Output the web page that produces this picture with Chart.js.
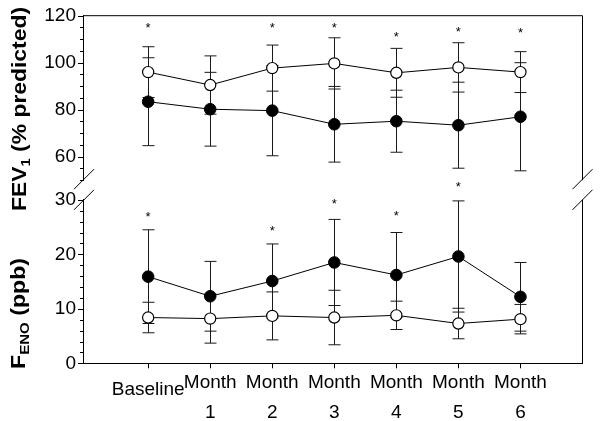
<!DOCTYPE html>
<html><head><meta charset="utf-8">
<script src="https://cdn.jsdelivr.net/npm/chart.js@4.4.0/dist/chart.umd.min.js"></script>
<style>
html,body{margin:0;padding:0;background:#fff;}
#wrap{position:relative;width:602px;height:421px;overflow:hidden;}
canvas{position:absolute;left:0;}
</style></head><body>
<div id="wrap">
<canvas id="topc" width="602" height="215" style="top:0px"></canvas>
<canvas id="botc" width="602" height="251" style="top:170px"></canvas>
</div>
<script>
// ---- data ----
const categories = ['Baseline', ['Month','1'], ['Month','2'], ['Month','3'], ['Month','4'], ['Month','5'], ['Month','6']];
const fevOpen      = [96.0, 90.5, 97.7, 99.7, 95.7, 98.0, 96.0];
const fevOpenSD    = [10.8, 12.4, 9.8, 10.9, 10.4, 10.5, 8.7];
const fevFilled    = [83.4, 80.2, 79.6, 73.8, 75.1, 73.4, 77.0];
const fevFilledSD  = [18.7, 15.7, 19.2, 16.1, 13.2, 18.3, 23.0];
const fevStars     = [115.8, null, 116.0, 116.0, 112.2, 114.3, 113.5];
const fenoOpen     = [8.4, 8.2, 8.7, 8.4, 8.8, 7.3, 8.1];
const fenoOpenSD   = [2.8, 4.5, 4.4, 5.0, 2.6, 2.8, 2.7];
const fenoFilled   = [15.9, 12.3, 15.1, 18.5, 16.2, 19.6, 12.2];
const fenoFilledSD = [8.6, 6.4, 6.8, 7.9, 7.8, 10.2, 6.3];
const fenoStars    = [27.3, null, 24.8, 29.6, 27.5, 32.8, null];
const fevTickLabels  = [60, 80, 100, 120];
const fenoTickLabels = [0, 10, 20, 30];

const FAM = '"Liberation Sans", Arial, Helvetica, sans-serif';
Chart.defaults.font.family = FAM;
Chart.defaults.color = '#000';

const pts = arr => arr.map((v,i)=>({x:i, y:v}));

function drawTitle(ctx, parts, bx, by, len){
  ctx.save();
  ctx.translate(bx, by); ctx.rotate(-Math.PI/2);
  let w = 0;
  parts.forEach(p=>{ ctx.font = p.sub ? 'bold 13px '+FAM : 'bold 20px '+FAM; p.w = ctx.measureText(p.t).width; w += p.w; });
  ctx.scale(len/w, 1);
  ctx.fillStyle = '#000'; ctx.textAlign = 'left'; ctx.textBaseline = 'alphabetic';
  let cx = 0;
  parts.forEach(p=>{ ctx.font = p.sub ? 'bold 13px '+FAM : 'bold 20px '+FAM; ctx.fillText(p.t, cx, p.sub ? 4 : 0); cx += p.w; });
  ctx.restore();
}

function deco(cfg){
  return {
    id: 'deco',
    beforeDatasetsDraw(chart){
      const ctx = chart.ctx, x = chart.scales.x, y = chart.scales.y;
      ctx.save(); ctx.strokeStyle = '#1a1a1a'; ctx.lineWidth = 1;
      cfg.errs.forEach(([m,s])=>{
        m.forEach((v,i)=>{
          const px = Math.round(x.getPixelForValue(i)) + 0.5;
          const y1 = y.getPixelForValue(v + s[i]), y2 = y.getPixelForValue(v - s[i]);
          ctx.beginPath();
          ctx.moveTo(px, y1); ctx.lineTo(px, y2);
          ctx.moveTo(px-6, y1); ctx.lineTo(px+6, y1);
          ctx.moveTo(px-6, y2); ctx.lineTo(px+6, y2);
          ctx.stroke();
        });
      });
      ctx.restore();
    },
    afterDraw(chart){
      const ctx = chart.ctx, a = chart.chartArea, x = chart.scales.x, y = chart.scales.y;
      ctx.save();
      ctx.strokeStyle = '#000'; ctx.lineWidth = 1;
      // y ticks (major + minor)
      for (let v = y.min; v <= y.max + 1e-9; v += cfg.minor){
        const major = cfg.major.includes(Math.round(v*100)/100);
        const py = Math.round(y.getPixelForValue(v)) + 0.5;
        ctx.beginPath(); ctx.moveTo(a.left - (major ? 5 : 3), py); ctx.lineTo(a.left, py); ctx.stroke();
      }
      // frame
      ctx.beginPath();
      if (cfg.isTop){ ctx.moveTo(a.left, a.top); ctx.lineTo(a.right, a.top); ctx.lineTo(a.right, a.bottom); }
      else { ctx.moveTo(a.right, a.top); ctx.lineTo(a.right, a.bottom); }
      ctx.stroke();
      // axis breaks
      const by = cfg.isTop ? a.bottom - 1 : a.top;
      [a.left + 1, a.right].forEach(bx=>{
        ctx.beginPath(); ctx.moveTo(bx-10, by+10); ctx.lineTo(bx+10, by-10); ctx.stroke();
      });
      // significance stars
      ctx.fillStyle = '#000'; ctx.font = '13px ' + FAM; ctx.textAlign = 'center'; ctx.textBaseline = 'alphabetic';
      const m = ctx.measureText('*');
      const off = (m.actualBoundingBoxAscent - m.actualBoundingBoxDescent)/2;
      cfg.stars.forEach((v,i)=>{
        if (v === null) return;
        ctx.fillText('*', x.getPixelForValue(i), y.getPixelForValue(v) + off);
      });
      ctx.restore();
      drawTitle(ctx, cfg.title, cfg.tx, cfg.ty, cfg.tlen);
    }
  };
}

function lineDs(data, open){
  return {
    data: pts(data),
    borderColor: '#000', borderWidth: 1,
    pointRadius: open ? 5.6 : 5.8,
    pointBorderWidth: open ? 1.2 : 1,
    pointBorderColor: '#000',
    pointBackgroundColor: open ? '#fff' : '#000',
    backgroundColor: open ? '#fff' : '#000',
    showLine: true, fill: false, tension: 0
  };
}

function yScale(min, max, step, labels){
  return {
    min, max,
    afterFit: s => { s.width = 83; },
    ticks: { stepSize: step, autoSkip: false, padding: 2, color: '#000',
             font: { size: 19, family: FAM },
             callback: v => labels.includes(v) ? String(v) : '' },
    grid: { drawOnChartArea: false, drawTicks: true, tickLength: 5, tickColor: 'rgba(0,0,0,0)' },
    border: { color: '#000', width: 1 }
  };
}

// top panel: FEV1
new Chart(document.getElementById('topc'), {
  type: 'scatter',
  data: { datasets: [ lineDs(fevOpen, true), lineDs(fevFilled, false) ] },
  options: {
    responsive: false, animation: false, events: [], devicePixelRatio: 1,
    layout: { padding: { top: 15.7, bottom: 34.8, left: 0, right: 19.5 } },
    plugins: { legend: { display: false }, tooltip: { enabled: false } },
    scales: {
      x: { type: 'linear', min: -1.05, max: 7, display: false },
      y: yScale(50, 120, 5, fevTickLabels)
    }
  },
  plugins: [ deco({ isTop: true, errs: [[fevFilled, fevFilledSD], [fevOpen, fevOpenSD]], stars: fevStars,
                    minor: 5, major: fevTickLabels,
                    title: [{t:'FEV'},{t:'1', sub:true},{t:' (% predicted)'}], tx: 26, ty: 211, tlen: 204 }) ]
});

// bottom panel: FENO
new Chart(document.getElementById('botc'), {
  type: 'scatter',
  data: { datasets: [ lineDs(fenoOpen, true), lineDs(fenoFilled, false) ] },
  options: {
    responsive: false, animation: false, events: [], devicePixelRatio: 1,
    layout: { padding: { top: 29.8, bottom: 0, left: 0, right: 19.5 } },
    plugins: { legend: { display: false }, tooltip: { enabled: false } },
    scales: {
      x: {
        type: 'linear', min: -1.05, max: 7,
        afterBuildTicks: s => { s.ticks = categories.map((c,i)=>({ value: i })); },
        afterFit: s => { s.height = 57.7; },
        ticks: {
          autoSkip: false, maxRotation: 0, minRotation: 0, padding: -1, color: '#000',
          font: ctx => ({ size: 19, family: FAM, lineHeight: (ctx.index === 0 ? 44 : 30) / 19 }),
          callback: (v, i) => categories[i]
        },
        grid: { drawOnChartArea: false, drawTicks: true, tickLength: 5, tickColor: '#000' },
        border: { color: '#000', width: 1 }
      },
      y: yScale(0, 30, 2, fenoTickLabels)
    }
  },
  plugins: [ deco({ isTop: false, errs: [[fenoFilled, fenoFilledSD], [fenoOpen, fenoOpenSD]], stars: fenoStars,
                    minor: 2, major: fenoTickLabels,
                    title: [{t:'F'},{t:'ENO', sub:true},{t:' (ppb)'}], tx: 25, ty: 369 - 170, tlen: 111 }) ]
});
</script>
</body></html>
